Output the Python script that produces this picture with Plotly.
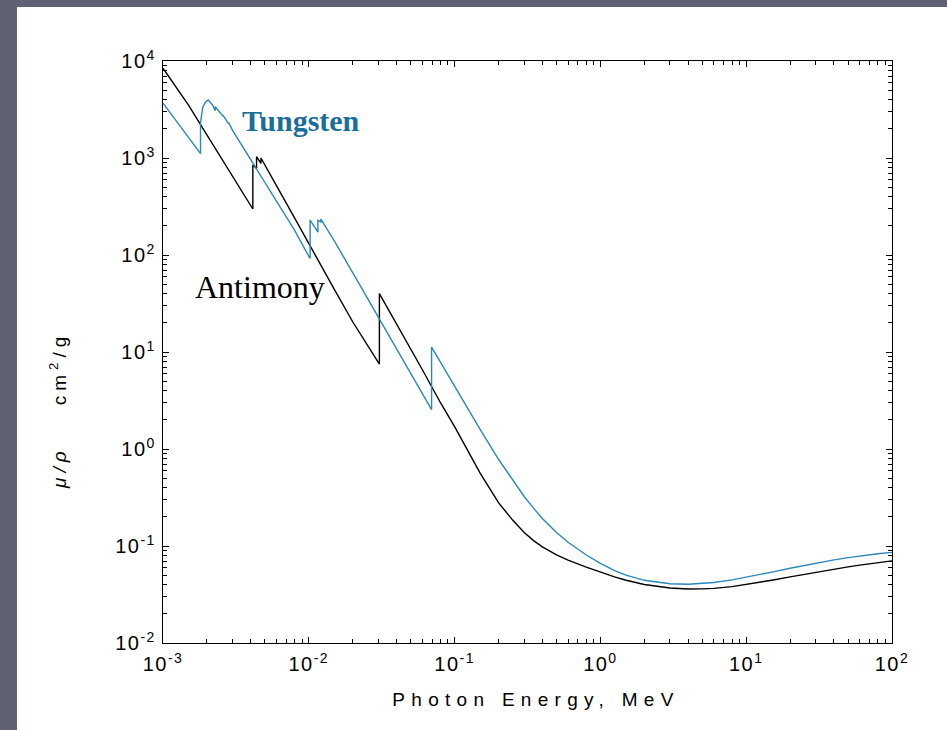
import plotly.graph_objects as go

# Photon energy (MeV) and mass attenuation coefficient (cm^2/g)
tungsten_energy = [1e-3, 1.5e-3, 1.809e-3, 1.809e-3, 1.87e-3, 1.95e-3, 2.04e-3, 2.19e-3,
                   2.281e-3, 2.281e-3, 2.5e-3, 2.575e-3, 2.575e-3, 2.82e-3, 2.82e-3, 3e-3, 4e-3,
                   5e-3, 6e-3, 8e-3, 1e-2, 1.0207e-2, 1.0207e-2, 1.1544e-2, 1.1544e-2, 1.21e-2,
                   1.21e-2, 1.5e-2, 2e-2, 3e-2, 4e-2, 5e-2, 6e-2, 6.9525e-2, 6.9525e-2, 8e-2, 0.1,
                   0.15, 0.2, 0.25, 0.3, 0.35, 0.4, 0.5, 0.6, 0.8, 1.0, 1.25, 1.5, 2.0, 3.0, 4.0, 5.0,
                   6.0, 8.0, 10, 15, 20, 30, 40, 50, 60, 80, 100]
tungsten_mu = [3683, 1643, 1108, 2300, 3300, 3750, 3960, 3516,
               3077, 3380, 2900, 2700, 2770, 2250, 2320, 1924, 956,
               563, 367, 179, 96.9, 92.1, 229, 172, 228, 220,
               235, 139, 65.7, 22.7, 10.67, 5.95, 3.71, 2.55, 11.23, 7.81, 4.44,
               1.58, 0.784, 0.48, 0.324, 0.243, 0.1925, 0.1378, 0.1093, 0.0807, 0.0662, 0.0558,
               0.0500, 0.0443, 0.0408, 0.0404, 0.0410,
               0.0421, 0.0447, 0.0475, 0.0538, 0.0589, 0.0667, 0.0720, 0.0759, 0.0789, 0.0831, 0.0859]

antimony_energy = [1e-3, 1.5e-3, 2e-3, 3e-3, 4e-3, 4.132e-3, 4.132e-3, 4.381e-3, 4.381e-3,
                   4.698e-3, 4.698e-3, 5e-3, 6e-3, 8e-3, 1e-2, 1.5e-2, 2e-2, 3e-2, 3.0491e-2,
                   3.0491e-2, 4e-2, 5e-2, 6e-2, 8e-2, 0.1, 0.15, 0.2, 0.25, 0.3, 0.35, 0.4, 0.5,
                   0.6, 0.8, 1.0, 1.25, 1.5, 2.0, 3.0, 4.0, 5.0, 6.0, 8.0, 10, 15, 20, 30, 40, 50,
                   60, 80, 100]
antimony_mu = [8420, 3491, 1736, 640, 322, 298, 848, 780, 1030,
               880, 1000, 850, 520, 240, 133, 44, 20.5, 7.8, 7.5,
               40, 19.5, 10.9, 6.6, 3.0, 1.7, 0.56, 0.28, 0.185, 0.138, 0.113, 0.098, 0.081,
               0.0715, 0.0605, 0.0538, 0.0480, 0.0444, 0.0401, 0.0369, 0.0360, 0.0361, 0.0366,
               0.0381, 0.0400, 0.0444, 0.0480, 0.0536, 0.0577, 0.0609, 0.0635, 0.0674, 0.0703]

series_names = ["Tungsten", "Antimony"]
x_title = "Photon Energy, MeV"
y_title = "<i>μ/ρ</i>\u00a0\u00a0\u00a0\u00a0cm<sup>2</sup>/g"
x_tick_vals = [1e-3, 1e-2, 1e-1, 1e0, 1e1, 1e2]
x_tick_text = ["10<sup>-3</sup>", "10<sup>-2</sup>", "10<sup>-1</sup>", "10<sup>0</sup>",
               "10<sup>1</sup>", "10<sup>2</sup>"]
y_tick_vals = [1e-2, 1e-1, 1e0, 1e1, 1e2, 1e3, 1e4]
y_tick_text = ["10<sup>-2</sup>", "10<sup>-1</sup>", "10<sup>0</sup>", "10<sup>1</sup>",
               "10<sup>2</sup>", "10<sup>3</sup>", "10<sup>4</sup>"]

blue = "#2a87bd"
fig = go.Figure()
fig.add_trace(go.Scatter(x=antimony_energy, y=antimony_mu, mode="lines",
                         line=dict(color="black", width=1.4), name=series_names[1]))
fig.add_trace(go.Scatter(x=tungsten_energy, y=tungsten_mu, mode="lines",
                         line=dict(color=blue, width=1.4), name=series_names[0]))

L, R, T, B = 163, 55, 61, 87
W, H = 947, 730
pw, ph = W - L - R, H - T - B

def px(xp):
    return (xp - L) / pw

def py(yp):
    return (H - B - yp) / ph

fig.add_shape(type="rect", xref="paper", yref="paper", x0=px(17), x1=px(W + 5),
              y0=py(H + 5), y1=py(7), fillcolor="white", line_width=0, layer="below")

tickfont = dict(family="Liberation Sans", size=20, color="black")
axis_common = dict(type="log", showgrid=False, zeroline=False, showline=True, linecolor="black",
                   linewidth=1.3, ticks="inside", ticklen=6, tickwidth=1, tickcolor="black",
                   mirror="allticks", tickmode="array", tickfont=tickfont,
                   minor=dict(ticks="inside", ticklen=4, tickwidth=1, tickcolor="black", dtick="D1"))
fig.update_xaxes(range=[-3, 2], tickvals=x_tick_vals, ticktext=x_tick_text,
                 ticklabelstandoff=3, **axis_common)
fig.update_yaxes(range=[-2, 4], tickvals=y_tick_vals, ticktext=y_tick_text,
                 ticklabelstandoff=2, **axis_common)

fig.add_annotation(text="<b>" + series_names[0] + "</b>", xref="paper", yref="paper",
                   x=px(301), y=py(121), xanchor="center", yanchor="middle", showarrow=False,
                   font=dict(family="Liberation Serif", size=30, color="#1b6d9c"))
fig.add_annotation(text=series_names[1], xref="paper", yref="paper",
                   x=px(260), y=py(287), xanchor="center", yanchor="middle", showarrow=False,
                   font=dict(family="Liberation Serif", size=32, color="black"))
fig.add_annotation(text=x_title, xref="paper", yref="paper",
                   x=px(536), y=py(699), xanchor="center", yanchor="middle", showarrow=False,
                   font=dict(family="Liberation Sans", size=19, color="black"))
fig.add_annotation(text=y_title, xref="paper", yref="paper", textangle=-90,
                   x=px(58), y=py(410), xanchor="center", yanchor="middle", showarrow=False,
                   font=dict(family="Liberation Sans", size=19, color="black"))

fig.update_layout(width=W, height=H, margin=dict(l=L, r=R, t=T, b=B, autoexpand=False),
                  paper_bgcolor="#5f6272", plot_bgcolor="white", showlegend=False)

post = """
var gd = document.getElementById('{plot_id}');
gd.querySelectorAll('.annotation-text').forEach(function(t){
  var s = t.textContent;
  if (s.indexOf('Photon') >= 0) { t.style.letterSpacing = '6.3px'; }
  else if (s.indexOf('cm') >= 0) { t.style.letterSpacing = '5px'; }
});
gd.querySelectorAll('.xtick text, .ytick text').forEach(function(t){ t.style.letterSpacing = '1.5px'; });
"""
fig.write_html("out.html", post_script=post, config={"displayModeBar": False})
